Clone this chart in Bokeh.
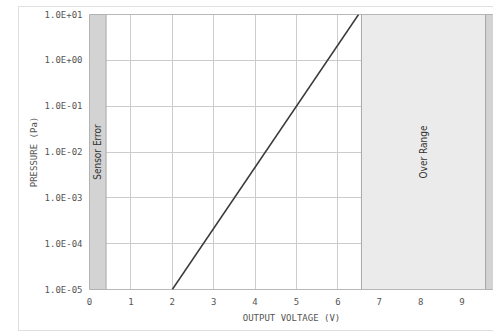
import math
from bokeh.plotting import figure
from bokeh.models import Range1d, FixedTicker, CustomJSTickFormatter
from bokeh.core.properties import value
from bokeh.embed import file_html
from bokeh.resources import INLINE

# ---- data ----
voltage = [2.0, 6.5]
pressure = [1e-5, 1e1]
x_ticks = [0, 1, 2, 3, 4, 5, 6, 7, 8, 9]
y_ticks = [1e-5, 1e-4, 1e-3, 1e-2, 1e-1, 1e0, 1e1]
y_tick_labels = ["1.0E-05", "1.0E-04", "1.0E-03", "1.0E-02", "1.0E-01", "1.0E+00", "1.0E+01"]
band_left = [0.0, 6.57, 9.57]
band_right = [0.4, 9.57, 10.5]
band_colors = ["#d3d3d3", "#ebebeb", "#d3d3d3"]
band_label_x = [0.2, 8.07]
band_label_y = [1e-2, 1e-2]
band_labels = ["Sensor Error", "Over Range"]

MONO = "DejaVu Sans Mono"

p = figure(width=493, height=332, output_backend="svg", toolbar_location=None,
           y_axis_type="log",
           x_range=Range1d(0, 9.76), y_range=Range1d(1e-5, 1e1),
           min_border_left=89, min_border_right=0, min_border_top=14, min_border_bottom=43)
p.background_fill_color = "white"
p.border_fill_color = None
p.outline_line_color = "#b8b8b8"
# faint outer frame of the page region (left, top, bottom lines)
p.styles = {
    "background-color": "white",
    "background-image": ("linear-gradient(#e0e0e0,#e0e0e0), linear-gradient(#e0e0e0,#e0e0e0), "
                         "linear-gradient(#e0e0e0,#e0e0e0)"),
    "background-size": "1px 325px, 475px 1px, 475px 1px",
    "background-position": "18px 6px, 18px 6px, 18px 330px",
    "background-repeat": "no-repeat",
}

# bands
p.quad(left=band_left, right=band_right, bottom=[y_ticks[0]] * 3, top=[y_ticks[-1]] * 3,
       fill_color=band_colors, line_color="#a8a8a8", line_width=1)

p.text(x=band_label_x, y=band_label_y, text=band_labels, angle=math.pi / 2,
       text_align="center", text_baseline="middle", text_font=value("DejaVu Sans Condensed"),
       text_font_size="10px", text_color="#333333")

# curve
p.line(voltage, pressure, line_color="#3a3a3a", line_width=1.5)

# axes
p.xaxis.ticker = FixedTicker(ticks=x_ticks)
p.yaxis.ticker = FixedTicker(ticks=y_ticks)
p.yaxis.formatter = CustomJSTickFormatter(args=dict(labels=y_tick_labels), code="""
    const e = Math.round(Math.log10(tick));
    return labels[e + 5];
""")
for ax in (p.xaxis[0], p.yaxis[0]):
    ax.axis_line_color = None
    ax.major_tick_line_color = None
    ax.minor_tick_line_color = None
    ax.major_tick_out = 0
    ax.major_tick_in = 0
    ax.major_label_text_font = MONO
    ax.major_label_text_font_size = "9px"
    ax.major_label_text_color = "#555555"
    ax.axis_label_text_font = MONO
    ax.axis_label_text_font_size = "9px"
    ax.axis_label_text_font_style = "normal"
    ax.axis_label_text_color = "#555555"
p.xaxis.axis_label = "OUTPUT VOLTAGE (V)"
p.yaxis.axis_label = "PRESSURE (Pa)"
p.xaxis.major_label_standoff = 8
p.xaxis.axis_label_standoff = 5
p.yaxis.major_label_standoff = 7
p.yaxis.axis_label_standoff = 3

p.xgrid.ticker = FixedTicker(ticks=x_ticks)
p.ygrid.ticker = FixedTicker(ticks=y_ticks)
p.grid.grid_line_color = "#cccccc"
p.grid.grid_line_width = 1

open("out.html", "w").write(file_html(p, INLINE))
